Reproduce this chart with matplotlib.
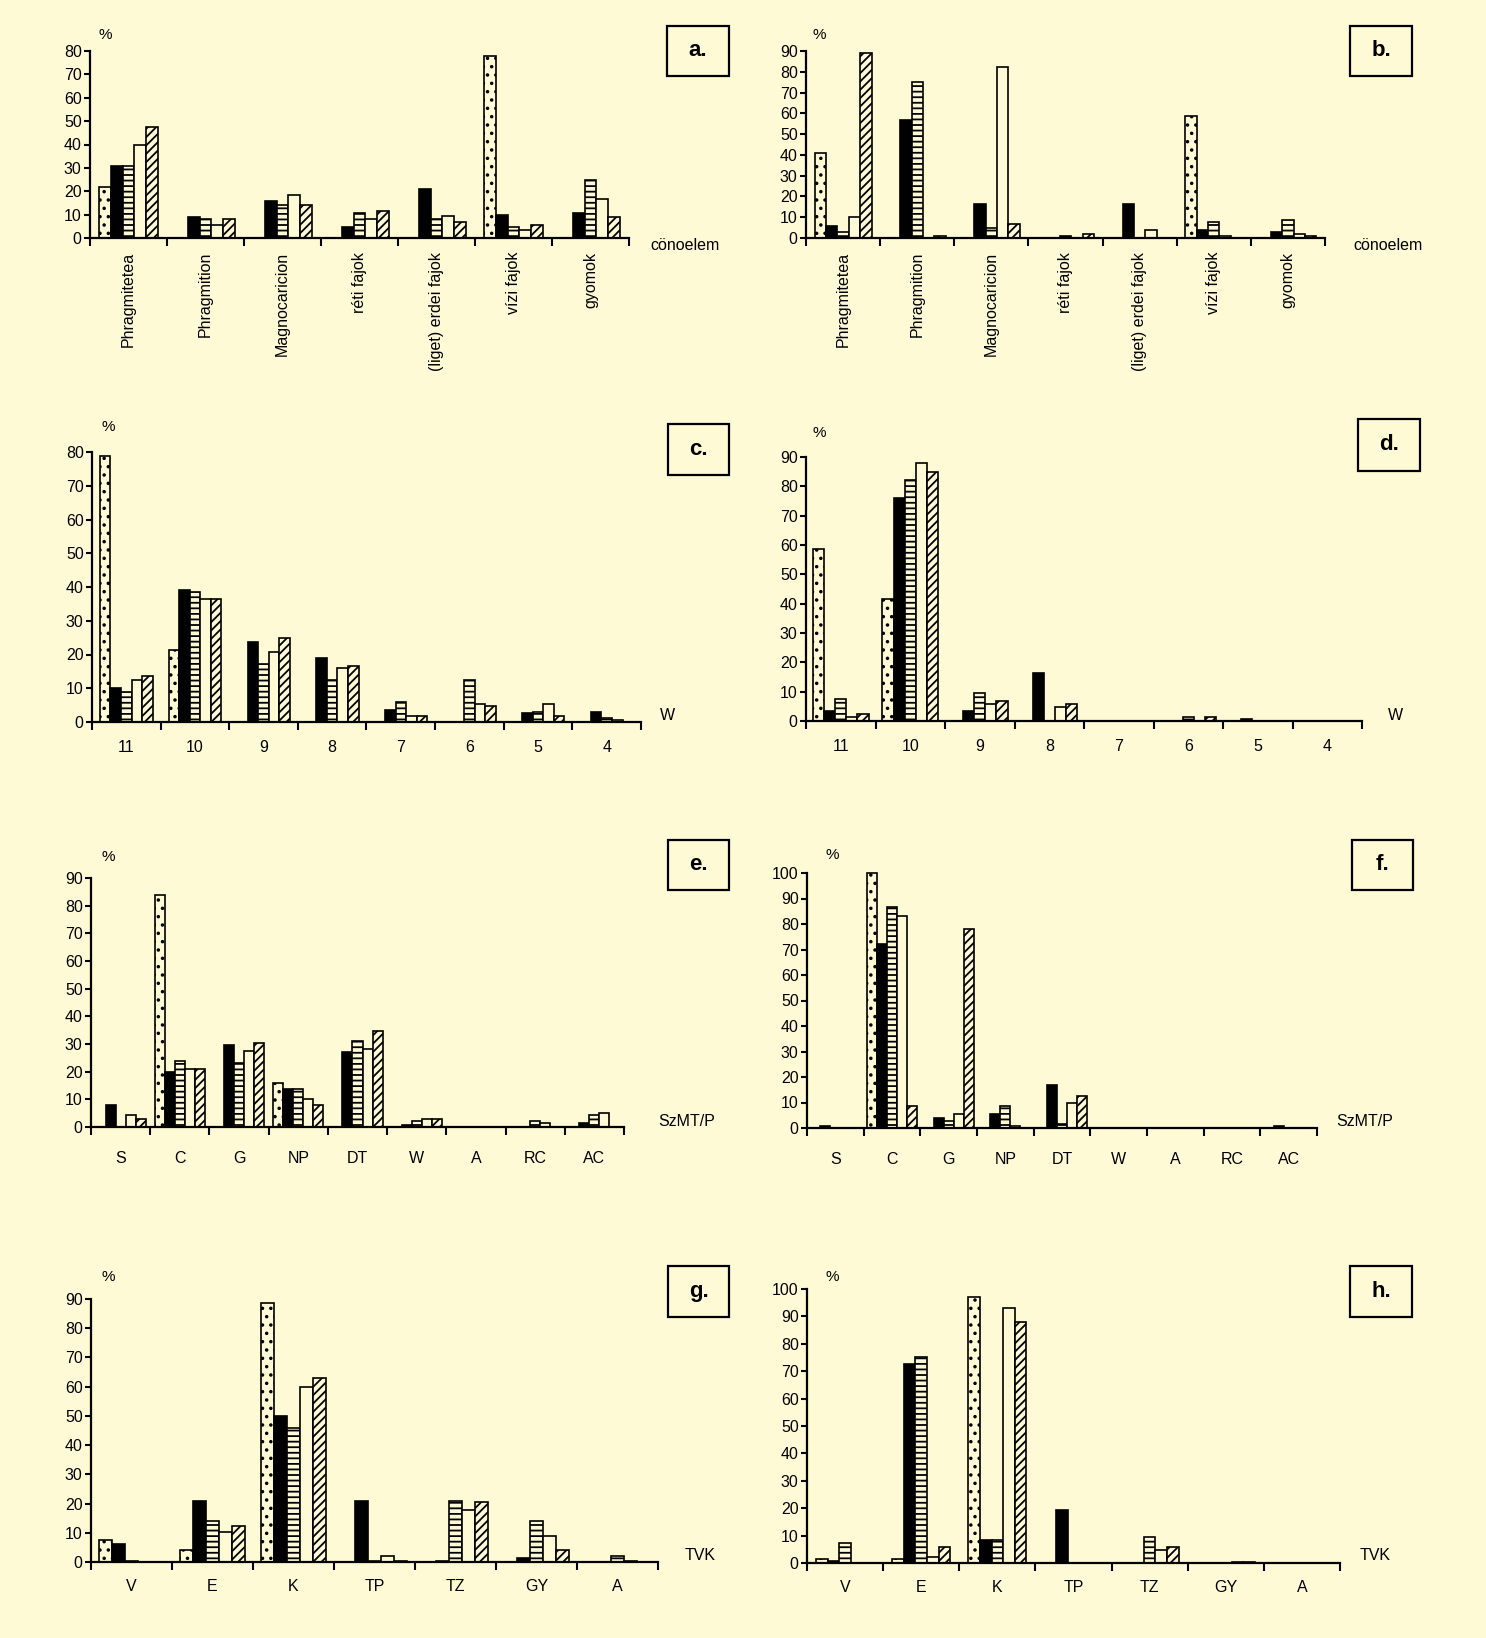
import matplotlib
matplotlib.use('Agg')
import matplotlib.pyplot as plt
from matplotlib.patches import Rectangle

W, H = 1486, 1638
BG = '#FFFAD6'
plt.rcParams['font.family'] = ['Liberation Sans', 'DejaVu Sans']
plt.rcParams['hatch.linewidth'] = 1.3

# ---------------- data ----------------
cats_ab = ['Phragmitetea', 'Phragmition', 'Magnocaricion', 'réti fajok',
           '(liget) erdei fajok', 'vízi fajok', 'gyomok']
cats_cd = ['11', '10', '9', '8', '7', '6', '5', '4']
cats_ef = ['S', 'C', 'G', 'NP', 'DT', 'W', 'A', 'RC', 'AC']
cats_gh = ['V', 'E', 'K', 'TP', 'TZ', 'GY', 'A']

# series order: dotted, black, striped, white, hatched
a_dotted = [22, 0, 0, 0, 0, 78, 0]
a_black = [31, 9, 16, 4.6, 21, 10, 10.7]
a_striped = [31, 8, 14.3, 10.6, 8, 4.6, 25]
a_white = [40, 5.5, 18.4, 8, 9.6, 3.6, 16.5]
a_hatched = [47.3, 8, 14.2, 11.5, 7, 5.4, 8.8]

b_dotted = [41, 0, 0, 0, 0, 58.5, 0]
b_black = [5.8, 56.6, 16.4, 0, 16.4, 4, 3]
b_striped = [2.7, 75.2, 4.8, 0.8, 0, 7.6, 8.6]
b_white = [10.3, 0, 82.5, 0, 3.9, 1, 1.9]
b_hatched = [89, 1, 6.7, 2, 0, 0, 1]

c_dotted = [78.7, 21.4, 0, 0, 0, 0, 0, 0]
c_black = [10, 39, 23.7, 19, 3.6, 0, 2.7, 3]
c_striped = [8.9, 38.5, 17.2, 12.5, 5.8, 12.3, 3, 1.2]
c_white = [12.3, 36.5, 20.7, 16, 1.7, 5.3, 5.3, 0.5]
c_hatched = [13.5, 36.5, 24.8, 16.5, 1.7, 4.6, 1.7, 0]

d_dotted = [58.7, 41.6, 0, 0, 0, 0, 0, 0]
d_black = [3.5, 75.9, 3.5, 16.5, 0, 0, 0.6, 0]
d_striped = [7.5, 82, 9.5, 0, 0, 1.4, 0, 0]
d_white = [1.5, 88, 5.7, 4.9, 0, 0, 0, 0]
d_hatched = [2.3, 84.8, 6.8, 5.7, 0, 1.4, 0, 0]

e_dotted = [0, 84, 0, 16, 0, 0, 0, 0, 0]
e_black = [7.9, 19.7, 29.8, 13.9, 27, 0.8, 0, 0, 1.4]
e_striped = [0, 24, 23.3, 13.9, 31.2, 2, 0, 2, 4.2]
e_white = [4.2, 21, 27.5, 10.3, 28.1, 2.9, 0, 1.4, 5]
e_hatched = [2.9, 21, 30.5, 8.1, 34.8, 2.9, 0, 0, 0]

f_dotted = [0, 100, 0, 0, 0, 0, 0, 0, 0]
f_black = [0.6, 72, 3.9, 5.5, 17, 0, 0, 0, 0.6]
f_striped = [0, 86.8, 2.9, 8.5, 1.6, 0, 0, 0, 0]
f_white = [0, 83, 5.5, 0.7, 10, 0, 0, 0, 0]
f_hatched = [0, 8.5, 78, 0, 12.4, 0, 0, 0, 0]

g_dotted = [7.4, 4, 88.8, 0, 0, 0, 0]
g_black = [6.2, 21, 49.8, 21, 0.5, 1.4, 0]
g_striped = [0.5, 14.2, 45.8, 0.5, 21, 14.2, 2]
g_white = [0, 10.1, 60, 2, 17.9, 8.8, 0.5]
g_hatched = [0, 12.2, 62.9, 0.5, 20.4, 4, 0]

h_dotted = [1.3, 1.3, 97.2, 0, 0, 0, 0]
h_black = [0.6, 72.5, 8.3, 19.2, 0, 0, 0]
h_striped = [7.3, 75.3, 8.3, 0, 9.5, 0, 0]
h_white = [0, 2.2, 93, 0, 4.6, 0.5, 0]
h_hatched = [0, 6, 87.8, 0, 6, 0.5, 0]

# ---------------- styles ----------------
styles = [dict(facecolor=BG, hatch='..'),
          dict(facecolor='black'),
          dict(facecolor=BG, hatch='---'),
          dict(facecolor=BG),
          dict(facecolor=BG, hatch='////')]

fig = plt.figure(figsize=(W / 100, H / 100), dpi=100, facecolor=BG)


def fx(x):
    return x / W


def fy(y):
    return 1 - y / H


def panel(rect, cats, series, ymax, bw, unit, unit_xy, letter, lbox, pct_xy,
          rotate=False, labpad=12):
    left, top, right, bottom = rect
    ax = fig.add_axes([fx(left), fy(bottom), (right - left) / W, (bottom - top) / H])
    ax.set_facecolor('none')
    n = len(cats)
    for k, vals in enumerate(series):
        xs = [i + 0.5 + (k - 2) * bw for i in range(n)]
        bars = ax.bar(xs, vals, width=bw, edgecolor='black', linewidth=1.2,
                      **styles[k])
        for b in bars:
            b.set_clip_on(False)
    ax.set_xlim(0, n)
    ax.set_ylim(0, ymax)
    ax.set_yticks(range(0, ymax + 1, 10))
    ax.set_xticks(range(n + 1))
    ax.set_xticklabels([])
    ax.set_xticks([i + 0.5 for i in range(n)], minor=True)
    if rotate:
        ax.set_xticklabels(cats, minor=True, rotation=90, va='top', fontsize=11.5)
    else:
        ax.set_xticklabels(cats, minor=True, fontsize=11.5)
    ax.tick_params(axis='x', which='major', length=6, width=1.5, direction='out')
    ax.tick_params(axis='x', which='minor', length=0, pad=labpad)
    ax.tick_params(axis='y', length=4, width=1.5, direction='out', pad=2,
                   labelsize=11.5)
    for s in ['top', 'right']:
        ax.spines[s].set_visible(False)
    for s in ['left', 'bottom']:
        ax.spines[s].set_linewidth(1.6)
    fig.text(fx(unit_xy[0]), fy(unit_xy[1]), unit, ha='left', va='center',
             fontsize=11.5)
    fig.text(fx(pct_xy[0]), fy(pct_xy[1]), '%', ha='center', va='center',
             fontsize=11)
    x0, y0, x1, y1 = lbox
    fig.patches.append(Rectangle((fx(x0), fy(y1)), (x1 - x0) / W, (y1 - y0) / H,
                                 transform=fig.transFigure, facecolor='none',
                                 edgecolor='black', linewidth=1.6))
    fig.text(fx((x0 + x1) / 2), fy((y0 + y1) / 2), letter, ha='center',
             va='center', fontsize=16, fontweight='bold')
    return ax


panel((90, 51, 629, 238), cats_ab,
      [a_dotted, a_black, a_striped, a_white, a_hatched], 80, 0.152,
      'cönoelem', (650, 245), 'a.', (667, 26, 729, 76), (105, 35),
      rotate=True, labpad=10)
panel((806, 51, 1325, 238), cats_ab,
      [b_dotted, b_black, b_striped, b_white, b_hatched], 90, 0.154,
      'cönoelem', (1353, 245), 'b.', (1350, 26, 1412, 76), (819, 35),
      rotate=True, labpad=10)
panel((92, 452, 641, 722), cats_cd,
      [c_dotted, c_black, c_striped, c_white, c_hatched], 80, 0.154,
      'W', (660, 716), 'c.', (668, 424, 729, 475), (108, 427), labpad=13)
panel((806, 457, 1362, 721), cats_cd,
      [d_dotted, d_black, d_striped, d_white, d_hatched], 90, 0.16,
      'W', (1388, 716), 'd.', (1358, 419, 1420, 471), (819, 433), labpad=13)
panel((91, 878, 624, 1127), cats_ef,
      [e_dotted, e_black, e_striped, e_white, e_hatched], 90, 0.17,
      'SzMT/P', (658, 1121), 'e.', (668, 840, 729, 890), (108, 857), labpad=17)
panel((807, 873, 1317, 1128), cats_ef,
      [f_dotted, f_black, f_striped, f_white, f_hatched], 100, 0.178,
      'SzMT/P', (1336, 1121), 'f.', (1352, 840, 1413, 890), (832, 855), labpad=17)
panel((91, 1299, 658, 1562), cats_gh,
      [g_dotted, g_black, g_striped, g_white, g_hatched], 90, 0.16,
      'TVK', (685, 1556), 'g.', (668, 1266, 729, 1317), (108, 1277), labpad=12)
panel((807, 1289, 1340, 1563), cats_gh,
      [h_dotted, h_black, h_striped, h_white, h_hatched], 100, 0.152,
      'TVK', (1360, 1556), 'h.', (1350, 1266, 1412, 1317), (832, 1277), labpad=12)

fig.savefig('out.png', dpi=100, facecolor=BG)
